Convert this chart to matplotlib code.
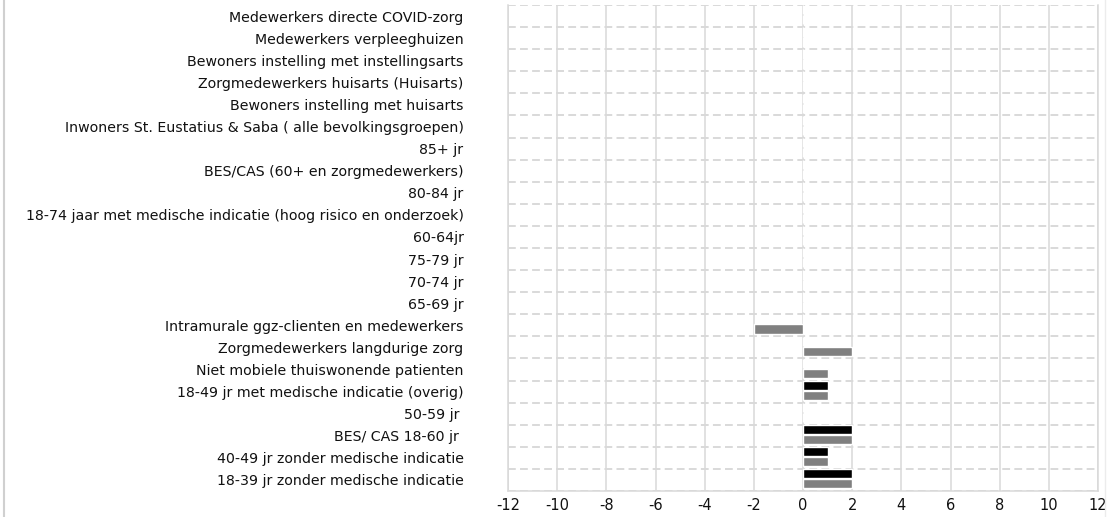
import numpy as np
import matplotlib
matplotlib.use('Agg')
from matplotlib import pyplot as plt

categorieen = ['Medewerkers directe COVID-zorg',
               'Medewerkers verpleeghuizen',
               'Bewoners instelling met instellingsarts',
               'Zorgmedewerkers huisarts (Huisarts)',
               'Bewoners instelling met huisarts',
               'Inwoners St. Eustatius & Saba ( alle bevolkingsgroepen)',
               '85+ jr',
               'BES/CAS (60+ en zorgmedewerkers)',
               '80-84 jr',
               '18-74 jaar met medische indicatie (hoog risico en onderzoek)',
               '60-64jr',
               '75-79 jr',
               '70-74 jr',
               '65-69 jr',
               'Intramurale ggz-clienten en medewerkers',
               'Zorgmedewerkers langdurige zorg',
               'Niet mobiele thuiswonende patienten',
               '18-49 jr met medische indicatie (overig)',
               '50-59 jr ',
               'BES/ CAS 18-60 jr ',
               '40-49 jr zonder medische indicatie',
               '18-39 jr zonder medische indicatie']

serie_zwart = [0, 0, 0, 0, 0, 0, 0, 0, 0, 0, 0, 0, 0, 0, 0, 0, 0, 1, 0, 2, 1, 2]
serie_grijs = [0, 0, 0, 0, 0, 0, 0, 0, 0, 0, 0, 0, 0, 0, -2, 2, 1, 1, 0, 2, 1, 2]

x_ticks = list(range(-12, 13, 2))

grid_kleur = '#d9d9d9'

fig = plt.figure(figsize=(11.09, 5.17), dpi=100)
ax = fig.add_axes([508/1109, 26/517, 590/1109, 486/517])

y = np.arange(len(categorieen))
ax.barh(y - 0.28, serie_zwart, height=0.42, color='black', edgecolor='white', linewidth=1, zorder=3)
ax.barh(y + 0.17, serie_grijs, height=0.42, color='#808080', edgecolor='white', linewidth=1, zorder=3)

ax.set_xlim(-12, 12)
ax.set_ylim(len(categorieen) - 0.5, -0.5)
ax.set_xticks(x_ticks)
ax.set_xticklabels([str(t) for t in x_ticks])
ax.set_yticks(y)
ax.set_yticklabels(categorieen)
ax.set_yticks(np.arange(-0.5, len(categorieen), 1), minor=True)

ax.tick_params(axis='y', which='both', length=0, pad=32, labelsize=10.2, labelcolor='#111111')
ax.tick_params(axis='x', length=0, pad=5, labelsize=10.5, labelcolor='#111111')

ax.grid(axis='x', which='major', color=grid_kleur, linewidth=1.1, linestyle='-', zorder=0)
ax.grid(axis='y', which='minor', color=grid_kleur, linewidth=1.4, linestyle=(0, (4, 2.2)), zorder=0)
ax.set_axisbelow(True)

for s in ['left', 'right', 'bottom']:
    ax.spines[s].set_color(grid_kleur)
    ax.spines[s].set_linewidth(1.1)
ax.spines['top'].set_visible(False)

# dunne rand links en rechts van het plaatje
fig.add_artist(plt.Line2D([3.5/1109, 3.5/1109], [0, 1], color='#d0d0d0', linewidth=1.5))
fig.add_artist(plt.Line2D([1104.5/1109, 1104.5/1109], [0, 1], color='#ececec', linewidth=1))

plt.savefig('out.png', dpi=100)
